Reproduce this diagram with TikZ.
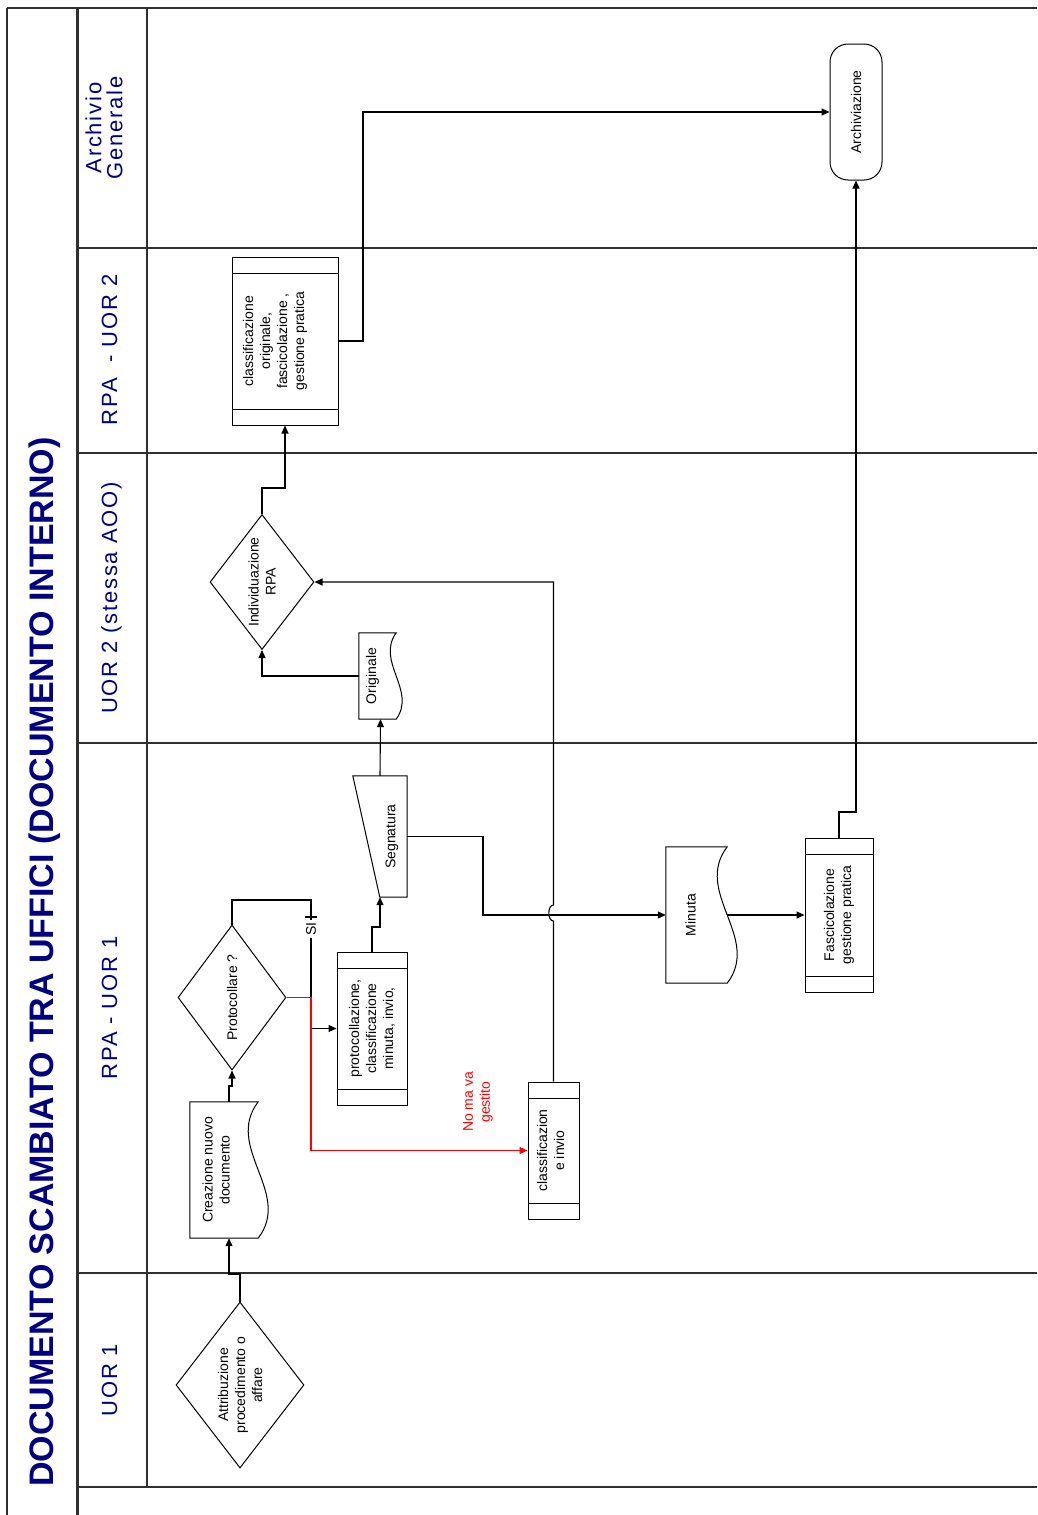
\documentclass[tikz,border=0pt]{standalone}
\usepackage{fontspec}
\setmainfont{Liberation Sans}
\usetikzlibrary{arrows.meta,positioning,calc,shapes.geometric}
\definecolor{laneblue}{HTML}{000080}
\definecolor{noline}{HTML}{FF0000}
\definecolor{frameline}{HTML}{303030}
\newcommand{\docpath}[2]{%
  \draw[box] (#1.north west) -- ($(#1.north east)+(-#2,0)$)
    .. controls ($(#1.north east)!.333!(#1.south east)+(-4.46*#2,0)$)
    and ($(#1.north east)!.667!(#1.south east)+(2.46*#2,0)$)
    .. ($(#1.south east)+(-#2,0)$) -- (#1.south west) -- cycle;}

\begin{document}
\begin{tikzpicture}[x=1pt,y=-1pt,>={Triangle[length=8pt,width=7pt]},
  every node/.style={font=\fontsize{14}{17}\selectfont},
  box/.style={draw,line width=1pt},
  flow/.style={->,line width=1.1pt},
  decision/.style={diamond,box,inner sep=0pt},
  band/.style={rectangle,box,inner sep=0pt,path picture={
    \draw[line width=1pt]
      ([yshift=-16pt]path picture bounding box.north west) -- ([yshift=-16pt]path picture bounding box.north east)
      ([yshift=16pt]path picture bounding box.south west) -- ([yshift=16pt]path picture bounding box.south east);}},
  paper/.style={rectangle,inner sep=0pt},
  term/.style={rectangle,box,rounded corners=18pt,inner sep=0pt},
  txt/.style={rotate=90,align=center,inner sep=0pt},
  lane/.style={rotate=90,align=center,inner sep=0pt,text=laneblue,
    font=\fontsize{22}{21}\selectfont\addfontfeatures{LetterSpace=8}},
  laneline/.style={frameline,line width=1.3pt}]
\useasboundingbox (0,0) rectangle (1037,1515);

% swimlanes
\draw[laneline,line width=1.2pt] (7,8) -- (7,1515);
\draw[laneline,line width=3pt] (77,8) -- (77,1515);
\draw[laneline] (147,8) -- (147,1487);
\draw[laneline,line width=2pt] (7,8) -- (1037,8);
\foreach \yy in {248,453,743,1273,1487}
  \draw[laneline] (78,\yy) -- (1037,\yy);

\node[rotate=90,anchor=base,inner sep=0pt,text=laneblue,
  font=\fontsize{34}{40}\selectfont\bfseries] (title) at (53,962)
  {DOCUMENTO SCAMBIATO TRA UFFICI (DOCUMENTO INTERNO)};
\node[lane] (lane-ag) at (104,128) {Archivio\\Generale};
\node[lane,anchor=base] (lane-rpa2) at (117,350) {RPA\ \ - UOR 2};
\node[lane,anchor=base] (lane-uor2) at (117,598) {UOR 2 (stessa AOO)};
\node[lane,anchor=base] (lane-rpa1) at (117,1008) {RPA - UOR 1};
\node[lane,anchor=base] (lane-uor1) at (117,1380) {UOR 1};

% shapes
\node[decision,minimum width=128pt,minimum height=166pt] (attr) at (240,1385) {};
\node[txt] (attr-t) at (attr) {Attribuzione\\procedimento o\\affare};

\node[paper,minimum width=78pt,minimum height=136pt] (crea) at (229,1170) {};
\docpath{crea}{10}
\node[txt] (crea-t) at ($(crea)+(-13,0)$) {Creazione nuovo\\documento};

\node[decision,minimum width=108pt,minimum height=145pt] (proto) at (232,997.5) {};
\node[txt] (proto-t) at (proto) {Protocollare ?};

\node[band,minimum width=70pt,minimum height=153pt] (pcb) at (372,1028.5) {};
\node[txt] (pcb-t) at (pcb) {protocollazione,\\classificazione\\minuta, invio,};

\node[band,minimum width=51pt,minimum height=137pt] (cei) at (553.5,1150.5) {};
\node[txt] (cei-t) at ($(cei)+(-3,0)$) {classificazion\\e invio};

\node[paper,minimum width=54pt,minimum height=121pt] (seg) at (380,836.5) {};
\draw[box] (seg.north west) -- (seg.north east) -- (seg.south east)
  -- ($(seg.south west)+(27,0)$) -- cycle;
\node[txt] (seg-t) at ($(seg)+(12,0)$) {Segnatura};

\node[paper,minimum width=43pt,minimum height=86pt] (orig) at (380.5,676) {};
\docpath{orig}{6}
\node[txt] (orig-t) at ($(orig)+(-8,0)$) {Originale};

\node[decision,minimum width=104pt,minimum height=135pt] (indiv) at (262,582) {};
\node[txt] (indiv-t) at (indiv) {Individuazione\\RPA};

\node[band,minimum width=106pt,minimum height=168pt] (cog) at (285,341) {};
\node[txt] (cog-t) at ($(cog)+(-10,0)$) {classificazione\\originale,\\fascicolazione ,\\gestione pratica};

\node[paper,minimum width=71pt,minimum height=136pt] (minuta) at (701.5,915) {};
\docpath{minuta}{10}
\node[txt] (minuta-t) at ($(minuta)+(-11,0)$) {Minuta};

\node[band,minimum width=68pt,minimum height=154pt] (fasc) at (839,915) {};
\node[txt] (fasc-t) at (fasc) {Fascicolazione\\gestione pratica};

\node[term,minimum width=52pt,minimum height=136pt] (arch) at (856,112) {};
\node[txt] (arch-t) at (arch) {Archiviazione};

% connectors
\draw[flow] (attr.north) -- (240,1274) -| (crea.south);
\draw[flow] (crea.north) -- (229,1086) -| (proto.south);
\draw[flow] (proto.north) |- (311,900) |- (pcb.west);
\node[txt,fill=white,inner sep=2pt] (si) at (311,929) {SI};
\draw[line width=1.1pt] (305,917) -- (317,917);
\draw[flow,noline] (proto.east) -- (311,997.5) |- (cei.west);
\node[txt,text=noline] (nomava) at (478,1102) {No ma va\\gestito};
\draw[flow] (pcb.north) -- (372,927) -| (seg.south);
\draw[flow] (seg.north) -- (orig.south);
\draw[flow] (orig.west) -| (indiv.south);
\draw[flow] (seg.east) -- (483,836.5) |- (minuta.west);
\draw[flow] (cei.north) -- (553.5,921) to[out=180,in=180] (553.5,905) |- (indiv.east);
\draw[flow] ($(minuta.east)+(-10,0)$) -- (fasc.west);
\draw[flow] (fasc.north) -- (839,812) -| (arch.south);
\draw[flow] (indiv.north) -- (262,488) -| (cog.south);
\draw[flow] (cog.east) -- (363,341) |- (arch.west);
\end{tikzpicture}
\end{document}
